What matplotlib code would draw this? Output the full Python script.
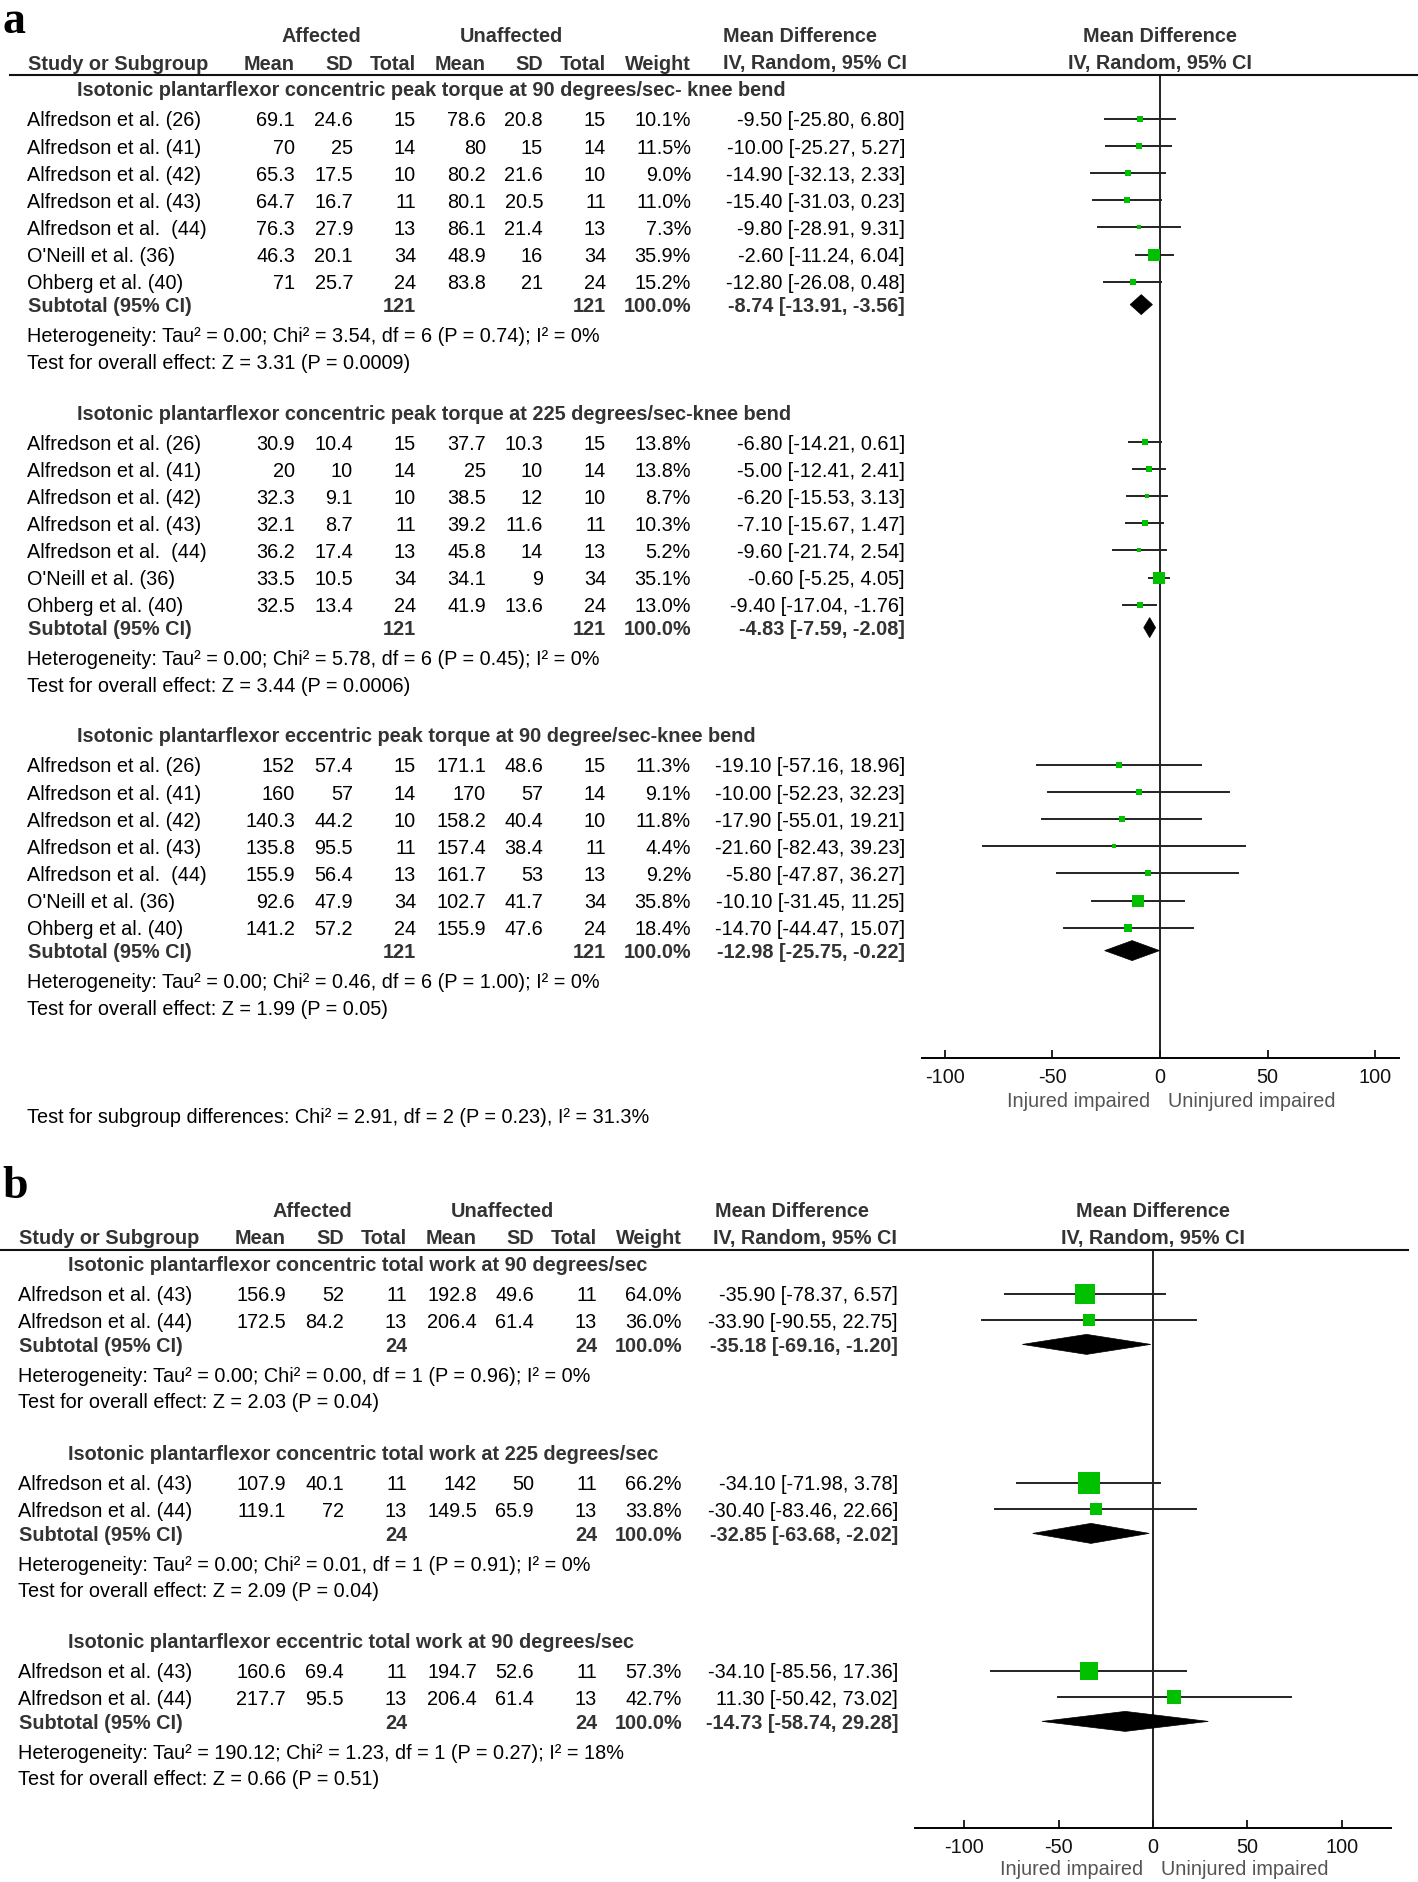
import numpy as np
import matplotlib
matplotlib.use('Agg')
import matplotlib.pyplot as plt
from matplotlib.transforms import Affine2D
from matplotlib.lines import Line2D
from matplotlib.patches import Polygon

plt.rcParams['font.family'] = ['Liberation Sans', 'DejaVu Sans']
plt.rcParams['axes.unicode_minus'] = False

# figure size in pixels (dpi 100)
W = 1418
H = 1882
FS = 14.3

# ---------------- data, panel a ----------------
names_a = ["Alfredson et al. (26)", "Alfredson et al. (41)", "Alfredson et al. (42)",
           "Alfredson et al. (43)", "Alfredson et al.  (44)", "O'Neill et al. (36)",
           "Ohberg et al. (40)"]
titles_a = ["Isotonic plantarflexor concentric peak torque at 90 degrees/sec- knee bend",
            "Isotonic plantarflexor concentric peak torque at 225 degrees/sec-knee bend",
            "Isotonic plantarflexor eccentric peak torque at 90 degree/sec-knee bend"]
n_a = [15, 14, 10, 11, 13, 34, 24]
mean_aff_a = [[69.1, 70, 65.3, 64.7, 76.3, 46.3, 71],
              [30.9, 20, 32.3, 32.1, 36.2, 33.5, 32.5],
              [152, 160, 140.3, 135.8, 155.9, 92.6, 141.2]]
sd_aff_a = [[24.6, 25, 17.5, 16.7, 27.9, 20.1, 25.7],
            [10.4, 10, 9.1, 8.7, 17.4, 10.5, 13.4],
            [57.4, 57, 44.2, 95.5, 56.4, 47.9, 57.2]]
mean_un_a = [[78.6, 80, 80.2, 80.1, 86.1, 48.9, 83.8],
             [37.7, 25, 38.5, 39.2, 45.8, 34.1, 41.9],
             [171.1, 170, 158.2, 157.4, 161.7, 102.7, 155.9]]
sd_un_a = [[20.8, 15, 21.6, 20.5, 21.4, 16, 21],
           [10.3, 10, 12, 11.6, 14, 9, 13.6],
           [48.6, 57, 40.4, 38.4, 53, 41.7, 47.6]]
weight_a = [[10.1, 11.5, 9.0, 11.0, 7.3, 35.9, 15.2],
            [13.8, 13.8, 8.7, 10.3, 5.2, 35.1, 13.0],
            [11.3, 9.1, 11.8, 4.4, 9.2, 35.8, 18.4]]
md_a = [[-9.50, -10.00, -14.90, -15.40, -9.80, -2.60, -12.80],
        [-6.80, -5.00, -6.20, -7.10, -9.60, -0.60, -9.40],
        [-19.10, -10.00, -17.90, -21.60, -5.80, -10.10, -14.70]]
lo_a = [[-25.80, -25.27, -32.13, -31.03, -28.91, -11.24, -26.08],
        [-14.21, -12.41, -15.53, -15.67, -21.74, -5.25, -17.04],
        [-57.16, -52.23, -55.01, -82.43, -47.87, -31.45, -44.47]]
hi_a = [[6.80, 5.27, 2.33, 0.23, 9.31, 6.04, 0.48],
        [0.61, 2.41, 3.13, 1.47, 2.54, 4.05, -1.76],
        [18.96, 32.23, 19.21, 39.23, 36.27, 11.25, 15.07]]
sub_md_a = [-8.74, -4.83, -12.98]
sub_lo_a = [-13.91, -7.59, -25.75]
sub_hi_a = [-3.56, -2.08, -0.22]
het_a = ["Heterogeneity: Tau² = 0.00; Chi² = 3.54, df = 6 (P = 0.74); I² = 0%",
         "Heterogeneity: Tau² = 0.00; Chi² = 5.78, df = 6 (P = 0.45); I² = 0%",
         "Heterogeneity: Tau² = 0.00; Chi² = 0.46, df = 6 (P = 1.00); I² = 0%"]
test_a = ["Test for overall effect: Z = 3.31 (P = 0.0009)",
          "Test for overall effect: Z = 3.44 (P = 0.0006)",
          "Test for overall effect: Z = 1.99 (P = 0.05)"]
subdiff_a = "Test for subgroup differences: Chi² = 2.91, df = 2 (P = 0.23), I² = 31.3%"

# ---------------- data, panel b ----------------
names_b = ["Alfredson et al. (43)", "Alfredson et al. (44)"]
titles_b = ["Isotonic plantarflexor concentric total work at 90 degrees/sec",
            "Isotonic plantarflexor concentric total work at 225 degrees/sec",
            "Isotonic plantarflexor eccentric total work at 90 degrees/sec"]
n_b = [11, 13]
mean_aff_b = [[156.9, 172.5], [107.9, 119.1], [160.6, 217.7]]
sd_aff_b = [[52, 84.2], [40.1, 72], [69.4, 95.5]]
mean_un_b = [[192.8, 206.4], [142, 149.5], [194.7, 206.4]]
sd_un_b = [[49.6, 61.4], [50, 65.9], [52.6, 61.4]]
weight_b = [[64.0, 36.0], [66.2, 33.8], [57.3, 42.7]]
md_b = [[-35.90, -33.90], [-34.10, -30.40], [-34.10, 11.30]]
lo_b = [[-78.37, -90.55], [-71.98, -83.46], [-85.56, -50.42]]
hi_b = [[6.57, 22.75], [3.78, 22.66], [17.36, 73.02]]
sub_md_b = [-35.18, -32.85, -14.73]
sub_lo_b = [-69.16, -63.68, -58.74]
sub_hi_b = [-1.20, -2.02, 29.28]
het_b = ["Heterogeneity: Tau² = 0.00; Chi² = 0.00, df = 1 (P = 0.96); I² = 0%",
         "Heterogeneity: Tau² = 0.00; Chi² = 0.01, df = 1 (P = 0.91); I² = 0%",
         "Heterogeneity: Tau² = 190.12; Chi² = 1.23, df = 1 (P = 0.27); I² = 18%"]
test_b = ["Test for overall effect: Z = 2.03 (P = 0.04)",
          "Test for overall effect: Z = 2.09 (P = 0.04)",
          "Test for overall effect: Z = 0.66 (P = 0.51)"]

ticks = [-100, -50, 0, 50, 100]
left_label = "Injured impaired"
right_label = "Uninjured impaired"

# ---------------- layout (pixels, origin top-left) ----------------
lay_a = dict(letter='a', letter_y=33, dx=0, ci_x=905, md_head_x=800, iv_head_x=815,
             head1=35, head2=62, line_y=75, line_x=(10, 1418),
             titles=[89, 412, 735], gap=27.1, sub_off=23,
             axis_y=1058, ax_x=(922, 1399), xlim=(-110.6, 111), zero_x=1160,
             lab_y=1100)
lay_b = dict(letter='b', letter_y=1198, dx=-9, ci_x=898, md_head_x=792, iv_head_x=805,
             head1=1210, head2=1237, line_y=1250, line_x=(0, 1408),
             titles=[1264, 1453, 1641], gap=26.4, sub_off=24,
             axis_y=1828, ax_x=(915, 1391), xlim=(-126, 126), zero_x=1153,
             lab_y=1868)

fig = plt.figure(figsize=(W / 100, H / 100), dpi=100)
fig.patch.set_facecolor('white')
T = Affine2D().scale(1.0 / W, -1.0 / H).translate(0, 1) + fig.transFigure

HEAD = '#333333'
GREEN = '#00c000'


def put(x, y, s, ha='left', bold=False, color='#000000', size=FS):
    fig.text(x, y + 7.5, s, ha=ha, va='baseline', fontsize=size,
             fontweight='bold' if bold else 'normal', color=color, transform=T)


def fmt(v):
    return f"{v:g}"


def draw_panel(L, names, n, titles, mean_aff, sd_aff, mean_un, sd_un, weight,
               md, lo, hi, sub_md, sub_lo, sub_hi, het, test):
    dx = L['dx']
    # column right edges
    cols = [295 + dx, 353 + dx, 416 + dx, 486 + dx, 543 + dx, 606 + dx, 691 + dx]
    fig.text(2, L['letter_y'], L['letter'], ha='left', va='baseline', fontsize=33,
             fontweight='bold', family='Liberation Serif', transform=T)

    # header
    put(321 + dx, L['head1'], "Affected", ha='center', bold=True, color=HEAD)
    put(511 + dx, L['head1'], "Unaffected", ha='center', bold=True, color=HEAD)
    put(L['md_head_x'], L['head1'], "Mean Difference", ha='center', bold=True, color=HEAD)
    put(L['zero_x'], L['head1'], "Mean Difference", ha='center', bold=True, color=HEAD)
    put(28 + dx, L['head2'], "Study or Subgroup", bold=True, color=HEAD)
    for x, s in zip(cols, ["Mean", "SD", "Total", "Mean", "SD", "Total", "Weight"]):
        put(x, L['head2'], s, ha='right', bold=True, color=HEAD)
    put(L['iv_head_x'], L['head2'], "IV, Random, 95% CI", ha='center', bold=True, color=HEAD)
    put(L['zero_x'], L['head2'], "IV, Random, 95% CI", ha='center', bold=True, color=HEAD)
    fig.add_artist(Line2D(list(L['line_x']), [L['line_y'], L['line_y']], lw=1.5,
                          color='#111111', transform=T))

    # forest axes, y in pixels
    x0, x1 = L['ax_x']
    y0, y1 = L['line_y'], L['axis_y']
    fa = fig.add_axes([x0 / W, 1 - y1 / H, (x1 - x0) / W, (y1 - y0) / H])
    fa.set_xlim(*L['xlim'])
    fa.set_ylim(y1, y0)
    fa.patch.set_alpha(0)
    for s in ['top', 'left', 'right']:
        fa.spines[s].set_visible(False)
    fa.spines['bottom'].set_linewidth(1.4)
    fa.set_yticks([])
    fa.set_xticks(ticks)
    fa.tick_params(axis='x', direction='in', length=6, width=1.3, pad=7,
                   labelsize=FS, colors='#111111')
    fa.axvline(0, color='#222222', lw=1.4, zorder=1)

    for g in range(len(titles)):
        ty = L['titles'][g]
        put(77 + dx, ty, titles[g], bold=True, color=HEAD)
        rows = ty + 30 + L['gap'] * np.arange(len(names))
        for i, y in enumerate(rows):
            put(27 + dx, y, names[i])
            vals = [fmt(mean_aff[g][i]), fmt(sd_aff[g][i]), str(n[i]),
                    fmt(mean_un[g][i]), fmt(sd_un[g][i]), str(n[i]),
                    f"{weight[g][i]:.1f}%"]
            for x, s in zip(cols, vals):
                put(x, y, s, ha='right')
            put(L['ci_x'], y, f"{md[g][i]:.2f} [{lo[g][i]:.2f}, {hi[g][i]:.2f}]", ha='right')
            # study marks
            fa.plot([lo[g][i], hi[g][i]], [y, y], color='#222222', lw=1.4, zorder=2)
            side = 2.5 + 0.28 * weight[g][i]
            fa.plot([md[g][i]], [y], marker='s', color=GREEN, markersize=side * 0.72,
                    markeredgewidth=0, zorder=3)
        sy = rows[-1] + L['sub_off']
        put(28 + dx, sy, "Subtotal (95% CI)", bold=True, color=HEAD)
        tot = str(sum(n))
        put(cols[2], sy, tot, ha='right', bold=True, color=HEAD)
        put(cols[5], sy, tot, ha='right', bold=True, color=HEAD)
        put(cols[6], sy, "100.0%", ha='right', bold=True, color=HEAD)
        put(L['ci_x'], sy, f"{sub_md[g]:.2f} [{sub_lo[g]:.2f}, {sub_hi[g]:.2f}]",
            ha='right', bold=True, color=HEAD)
        dia = Polygon([(sub_lo[g], sy), (sub_md[g], sy - 10), (sub_hi[g], sy), (sub_md[g], sy + 10)],
                      closed=True, facecolor='black', edgecolor='black', lw=0.5, zorder=3)
        fa.add_patch(dia)
        put(27 + dx, sy + 30, het[g])
        put(27 + dx, sy + 56.5, test[g])

    zx = L['zero_x']
    put(zx - 10, L['lab_y'], left_label, ha='right', color='#555555')
    put(zx + 8, L['lab_y'], right_label, ha='left', color='#555555')


draw_panel(lay_a, names_a, n_a, titles_a, mean_aff_a, sd_aff_a, mean_un_a, sd_un_a,
           weight_a, md_a, lo_a, hi_a, sub_md_a, sub_lo_a, sub_hi_a, het_a, test_a)
put(27, 1116, subdiff_a)

draw_panel(lay_b, names_b, n_b, titles_b, mean_aff_b, sd_aff_b, mean_un_b, sd_un_b,
           weight_b, md_b, lo_b, hi_b, sub_md_b, sub_lo_b, sub_hi_b, het_b, test_b)

fig.savefig('out.png', dpi=100, facecolor='white')
